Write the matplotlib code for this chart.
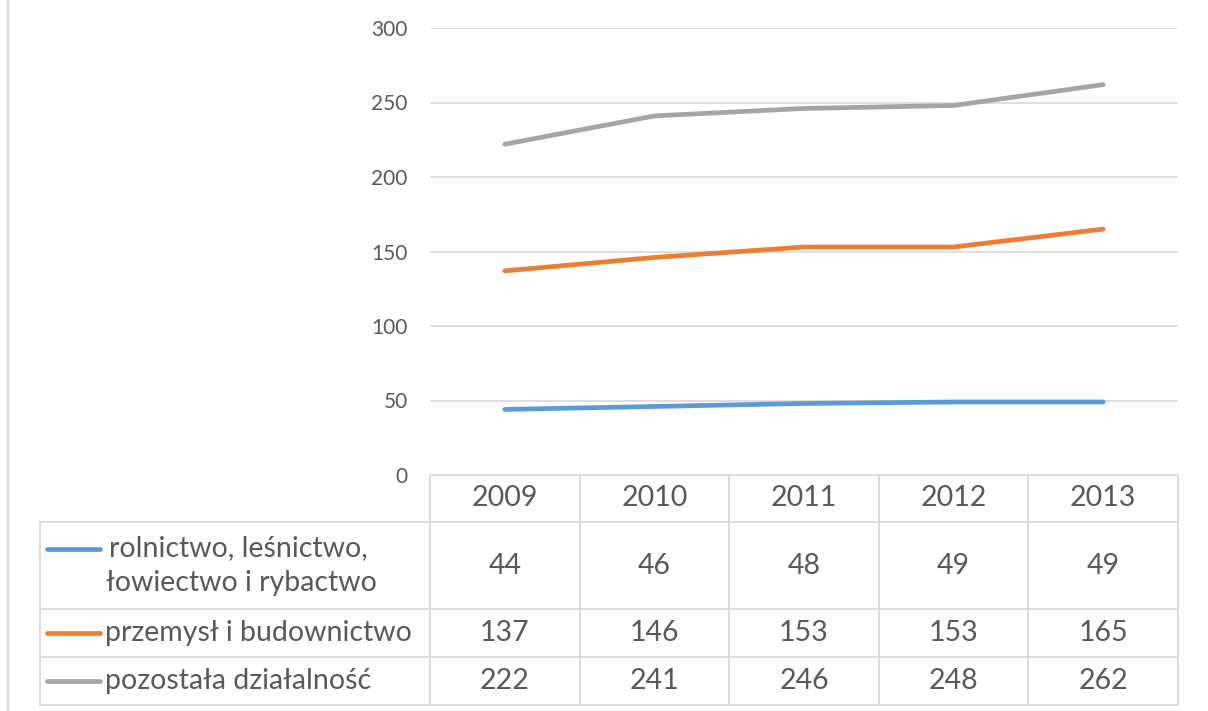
import matplotlib.pyplot as plt
import numpy as np

years = ["2009", "2010", "2011", "2012", "2013"]
series_names = ["rolnictwo, leśnictwo,\nłowiectwo i rybactwo",
                "przemysł i budownictwo",
                "pozostała działalność"]
rolnictwo = [44, 46, 48, 49, 49]
przemysl = [137, 146, 153, 153, 165]
pozostala = [222, 241, 246, 248, 262]
y_ticks = [0, 50, 100, 150, 200, 250, 300]

colors = ["#5B9BD5", "#ED7D31", "#A5A5A5"]
text_color = "#595959"
grid_color = "#D9D9D9"


def main() -> None:
    plt.rcParams['font.family'] = ['Lato', 'DejaVu Sans']
    W, H = 1208, 711
    fig = plt.figure(figsize=(W / 100, H / 100), dpi=100)

    # plot area in pixel coords
    px_left, px_right, px_top, px_bottom = 430, 1178, 28, 475
    ax = fig.add_axes([px_left / W, 1 - px_bottom / H,
                       (px_right - px_left) / W, (px_bottom - px_top) / H])
    x = np.arange(len(years))
    for vals, c in zip([rolnictwo, przemysl, pozostala], colors):
        ax.plot(x, vals, color=c, linewidth=3.4, solid_capstyle='round', zorder=3)
    ax.set_xlim(-0.5, len(years) - 0.5)
    ax.set_ylim(0, 300)
    ax.set_yticks(y_ticks)
    ax.set_xticks([])
    ax.grid(axis='y', color=grid_color, linewidth=1.2)
    for s in ax.spines.values():
        s.set_visible(False)
    ax.tick_params(axis='y', length=0, pad=16, labelsize=15, labelcolor=text_color)

    # table drawn in pixel space
    tab = fig.add_axes([0, 0, 1, 1], zorder=-1)
    tab.set_xlim(0, W)
    tab.set_ylim(H, 0)
    tab.axis('off')

    col_edges = np.linspace(px_left, px_right, len(years) + 1)
    row_edges = [475, 522, 609, 657, 705]
    left_edge = 40
    lw = 1.3

    # left frame line
    tab.plot([8, 8], [0, H], color=grid_color, linewidth=1.5)
    # horizontal lines
    tab.plot([px_left, px_right], [row_edges[0]] * 2, color=grid_color, linewidth=lw)
    for ry in row_edges[1:]:
        tab.plot([left_edge, px_right], [ry, ry], color=grid_color, linewidth=lw)
    # vertical lines
    for cx in col_edges:
        tab.plot([cx, cx], [row_edges[0], row_edges[-1]], color=grid_color, linewidth=lw)
    tab.plot([left_edge, left_edge], [row_edges[1], row_edges[-1]],
             color=grid_color, linewidth=lw)

    centers_x = (col_edges[:-1] + col_edges[1:]) / 2
    fs = 20.5
    for cx, yr in zip(centers_x, years):
        tab.text(cx, (row_edges[0] + row_edges[1]) / 2, yr, ha='center', va='center',
                 fontsize=fs, color=text_color)

    for i, (name, vals, c) in enumerate(zip(series_names,
                                            [rolnictwo, przemysl, pozostala], colors)):
        cy = (row_edges[i + 1] + row_edges[i + 2]) / 2
        tab.plot([47, 100], [cy - (17 if i == 0 else 0)] * 2, color=c,
                 linewidth=3.4, solid_capstyle='round')
        if i == 0:
            tab.text(109, cy - 17, name.split("\n")[0], ha='left', va='center',
                     fontsize=fs, color=text_color)
            tab.text(106, cy + 18, name.split("\n")[1], ha='left', va='center',
                     fontsize=fs, color=text_color)
        else:
            tab.text(105, cy, name, ha='left', va='center', fontsize=fs, color=text_color)
        for cx, v in zip(centers_x, vals):
            tab.text(cx, cy, str(v), ha='center', va='center', fontsize=fs,
                     color=text_color)

    fig.savefig("out.png", dpi=100)


if __name__ == "__main__":
    main()
